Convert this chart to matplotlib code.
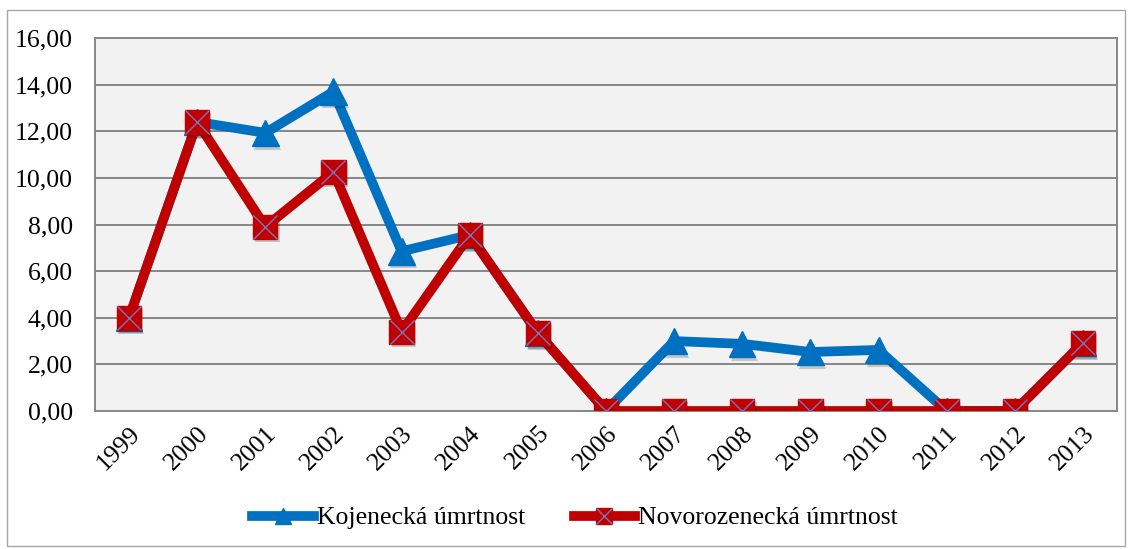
import matplotlib
matplotlib.use("Agg")
import matplotlib.pyplot as plt
from matplotlib.patches import Rectangle
from matplotlib.lines import Line2D
import matplotlib.patheffects as pe

years = ["1999", "2000", "2001", "2002", "2003", "2004", "2005", "2006",
         "2007", "2008", "2009", "2010", "2011", "2012", "2013"]
kojenecka = [4.00, 12.40, 11.93, 13.70, 6.85, 7.55, 3.35, 0.00,
             3.00, 2.88, 2.53, 2.62, 0.00, 0.00, 2.92]
novorozenecka = [4.00, 12.40, 7.90, 10.26, 3.40, 7.55, 3.35, 0.00,
                 0.00, 0.00, 0.00, 0.00, 0.00, 0.00, 2.92]
yticks = [0, 2, 4, 6, 8, 10, 12, 14, 16]
ytick_labels = ["0,00", "2,00", "4,00", "6,00", "8,00", "10,00", "12,00", "14,00", "16,00"]
series_names = ["Kojenecká úmrtnost", "Novorozenecká úmrtnost"]

plt.rcParams['font.family'] = ['Liberation Serif', 'DejaVu Serif']

BLUE = "#0070C0"
RED = "#C00000"
XCOL = "#7B72B8"
GRID = "#878787"
FS = 18.5

fig = plt.figure(figsize=(11.29, 5.49), dpi=100)
fig.patch.set_facecolor("white")
fig.patches.append(Rectangle((7/1129, 1 - 546/549), (1125-7)/1129, (546-10)/549,
                             transform=fig.transFigure, fill=False,
                             edgecolor="#A6A6A6", linewidth=1.0))

ax = fig.add_axes([95/1129, 1 - 411/549, (1117-95)/1129, (411-38)/549])
ax.set_facecolor("#F2F2F2")

x = list(range(len(years)))
shadow = [pe.SimplePatchShadow(offset=(1.5, -2.5), shadow_rgbFace="#000000", alpha=0.18), pe.Normal()]

ax.plot(x, kojenecka, color=BLUE, linewidth=7, solid_joinstyle="miter", zorder=3)
ax.plot(x, kojenecka, linestyle="none", marker="^", markersize=19,
        markerfacecolor=BLUE, markeredgecolor=BLUE, zorder=3.5, path_effects=shadow)
ax.plot(x, novorozenecka, color=RED, linewidth=7, solid_joinstyle="miter", zorder=4)
ax.plot(x, novorozenecka, linestyle="none", marker="s", markersize=17.5,
        markerfacecolor=RED, markeredgecolor=RED, zorder=4.5, path_effects=shadow)
ax.plot(x, novorozenecka, linestyle="none", marker="x", markersize=17.5,
        markeredgecolor=XCOL, markeredgewidth=1.0, zorder=5)

ax.set_xlim(-0.5, len(years) - 0.5)
ax.set_ylim(0, 16)
ax.set_yticks(yticks)
ax.set_yticklabels(ytick_labels, fontsize=FS)
ax.set_xticks(x)
ax.set_xticklabels(years, fontsize=FS, rotation=45, ha="right", rotation_mode="anchor")
ax.tick_params(axis="x", length=0, pad=8)
ax.tick_params(axis="y", length=0, pad=16)
ax.grid(axis="y", color=GRID, linewidth=1.4, zorder=1)
ax.set_axisbelow(True)
for s in ax.spines.values():
    s.set_color(GRID)
    s.set_linewidth(1.4)

h1 = Line2D([], [], color=BLUE, linewidth=7, marker="^", markersize=12,
            markerfacecolor=BLUE, markeredgecolor=BLUE)
h2 = Line2D([], [], color=RED, linewidth=7, marker="s", markersize=11,
            markerfacecolor=RED, markeredgecolor=RED)
h2x = Line2D([], [], linestyle="none", marker="x", markersize=11,
             markeredgecolor=XCOL, markeredgewidth=1.0)
fig.legend([h1, (h2, h2x)], series_names, loc="center",
           bbox_to_anchor=(575/1129, 1 - 518/549), ncol=2, frameon=False,
           fontsize=FS, handlelength=2.4, handletextpad=0.1, columnspacing=1.9)

fig.savefig("out.png", dpi=100)
